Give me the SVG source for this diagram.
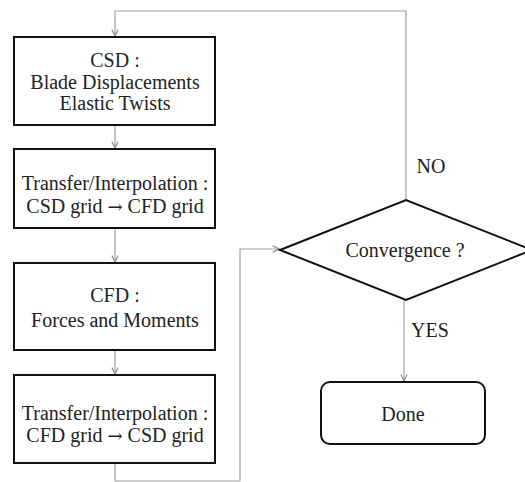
<svg xmlns="http://www.w3.org/2000/svg" width="525" height="482" viewBox="0 0 525 482">
<style>
.box{fill:#fff;stroke:#111;stroke-width:2}
.t{font-family:"Liberation Serif","Times New Roman",serif;font-size:20px;fill:#222;text-anchor:middle}
.ar{font-family:"DejaVu Serif",serif;font-size:18px}
.c{fill:none;stroke:#a0a0a0;stroke-width:1.2}
</style>
<defs>
<marker id="ah" viewBox="0 0 10 10" refX="9" refY="5" markerWidth="8" markerHeight="8" markerUnits="userSpaceOnUse" orient="auto">
<path d="M1,1 L9,5 L1,9" fill="none" stroke="#888" stroke-width="1.4"/>
</marker>
</defs>
<rect width="525" height="482" fill="#fff"/>
<g id="connectors">
<path class="c" d="M115,125 V148" marker-end="url(#ah)"/>
<path class="c" d="M115,228 V262" marker-end="url(#ah)"/>
<path class="c" d="M115,350 V374" marker-end="url(#ah)"/>
<path class="c" d="M115,463 V481 H240 V249 H279" marker-end="url(#ah)"/>
<path class="c" d="M406,200 V11 H115 V36" marker-end="url(#ah)"/>
<path class="c" d="M404,300 V381" marker-end="url(#ah)"/>
</g>
<g id="csd">
<rect class="box" x="14" y="37" width="201" height="88"/>
<text class="t" x="115" y="67">CSD :</text>
<text class="t" x="115" y="89">Blade Displacements</text>
<text class="t" x="115" y="110">Elastic Twists</text>
</g>
<g id="transfer1">
<rect class="box" x="14" y="149" width="201" height="79"/>
<text class="t" x="115" y="190">Transfer/Interpolation :</text>
<text class="t" x="115" y="213">CSD grid <tspan class="ar">→</tspan> CFD grid</text>
</g>
<g id="cfd">
<rect class="box" x="14" y="263" width="201" height="87"/>
<text class="t" x="115" y="302">CFD :</text>
<text class="t" x="115" y="327">Forces and Moments</text>
</g>
<g id="transfer2">
<rect class="box" x="14" y="375" width="201" height="88"/>
<text class="t" x="115" y="420">Transfer/Interpolation :</text>
<text class="t" x="115" y="442">CFD grid <tspan class="ar">→</tspan> CSD grid</text>
</g>
<g id="convergence">
<polygon class="box" points="280,250 406,200 532,250 406,300"/>
<text class="t" x="405" y="257">Convergence ?</text>
</g>
<g id="labels">
<text class="t" x="431" y="173">NO</text>
<text class="t" x="430" y="337">YES</text>
</g>
<g id="done">
<rect class="box" x="321" y="382" width="164" height="62" rx="9"/>
<text class="t" x="403" y="421">Done</text>
</g>
</svg>
